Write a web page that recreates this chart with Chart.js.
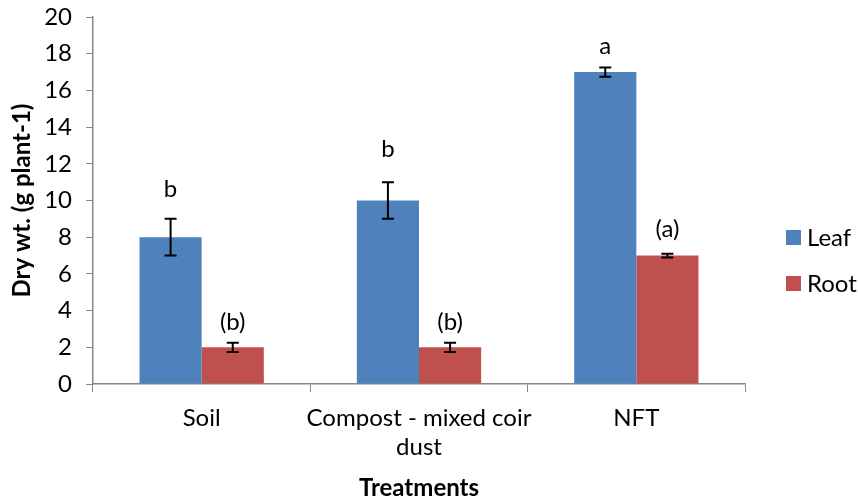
<!DOCTYPE html>
<html>
<head>
<meta charset="utf-8">
<script src="https://cdn.jsdelivr.net/npm/chart.js@4/dist/chart.umd.min.js"></script>
<style>
  html, body { margin: 0; padding: 0; background: #ffffff; }
  #wrap { width: 858px; height: 498px; }
</style>
</head>
<body>
<div id="wrap"><canvas id="c" width="858" height="498"></canvas></div>
<script>
// Dry weight per plant by growing treatment
const categories = ['Soil', ['Compost - mixed coir', 'dust'], 'NFT'];
const seriesNames = ['Leaf', 'Root'];
const leafValues = [8, 10, 17];
const rootValues = [2, 2, 7];
const leafErrors = [1, 1, 0.25];
const rootErrors = [0.25, 0.25, 0.1];
const leafLetters = ['b', 'b', 'a'];
const rootLetters = ['(b)', '(b)', '(a)'];
const yTicks = [0, 2, 4, 6, 8, 10, 12, 14, 16, 18, 20];

const FONT = 'Lato, "Open Sans", sans-serif';
const AXIS_GREY = '#868686';
Chart.defaults.font.family = FONT;
Chart.defaults.color = '#000000';

// Error bars and significance letters above each bar
const errorLetters = {
  id: 'errorLetters',
  afterDatasetsDraw(chart, args, opts) {
    const ctx = chart.ctx;
    const y = chart.scales.y;
    chart.data.datasets.forEach((ds, di) => {
      const meta = chart.getDatasetMeta(di);
      meta.data.forEach((bar, i) => {
        const v = ds.data[i];
        const e = ds.errors[i];
        const top = y.getPixelForValue(v + e);
        const bottom = y.getPixelForValue(v - e);
        const x = bar.x;
        ctx.save();
        ctx.strokeStyle = '#000000';
        ctx.lineWidth = 2;
        ctx.beginPath();
        ctx.moveTo(x, top); ctx.lineTo(x, bottom);
        ctx.moveTo(x - opts.cap, top); ctx.lineTo(x + opts.cap, top);
        ctx.moveTo(x - opts.cap, bottom); ctx.lineTo(x + opts.cap, bottom);
        ctx.stroke();
        ctx.fillStyle = '#000000';
        ctx.font = '24px ' + FONT;
        ctx.textAlign = 'center';
        ctx.textBaseline = 'alphabetic';
        ctx.fillText(ds.letters[i], x, top - opts.lift[di][i]);
        ctx.restore();
      });
    });
  }
};

// Legend at the right of the plot
const sideLegend = {
  id: 'sideLegend',
  afterDraw(chart, args, opts) {
    const ctx = chart.ctx;
    chart.data.datasets.forEach((ds, di) => {
      const bx = opts.x;
      const by = opts.y + di * opts.step;
      ctx.save();
      ctx.fillStyle = ds.backgroundColor;
      ctx.fillRect(bx, by, opts.box, opts.box);
      ctx.fillStyle = '#000000';
      ctx.font = '24px ' + FONT;
      ctx.textAlign = 'left';
      ctx.textBaseline = 'middle';
      ctx.fillText(ds.label, bx + opts.box + 6, by + opts.box / 2 + 1);
      ctx.restore();
    });
  }
};

new Chart(document.getElementById('c'), {
  type: 'bar',
  data: {
    labels: categories,
    datasets: [
      { label: seriesNames[0], data: leafValues, errors: leafErrors, letters: leafLetters,
        backgroundColor: '#4F81BD' },
      { label: seriesNames[1], data: rootValues, errors: rootErrors, letters: rootLetters,
        backgroundColor: '#C0504D' }
    ]
  },
  plugins: [errorLetters, sideLegend],
  options: {
    responsive: false,
    animation: false,
    devicePixelRatio: 1,
    categoryPercentage: 0.572,
    barPercentage: 1.0,
    layout: { padding: { top: 17, right: 113, bottom: 0, left: 0 } },
    plugins: {
      legend: { display: false },
      tooltip: { enabled: false },
      errorLetters: { cap: 6, lift: [[22, 25, 13], [13, 13, 17]] },
      sideLegend: { x: 786, y: 230, step: 46, box: 15 }
    },
    scales: {
      x: {
        grid: { display: true, drawOnChartArea: false, drawTicks: true, tickLength: 8,
                color: AXIS_GREY, offset: true },
        border: { display: true, color: AXIS_GREY, width: 1.5 },
        ticks: { font: { size: 24, lineHeight: 1.2 }, padding: 12, color: '#000000',
                 maxRotation: 0, autoSkip: false },
        title: { display: true, text: 'Treatments', font: { size: 24, weight: 'bold' },
                 padding: { top: 0, bottom: -5 }, color: '#000000' },
        afterFit(scale) { scale.height = 114; scale.paddingLeft = 0; scale.paddingRight = 0; }
      },
      y: {
        min: 0, max: 20,
        afterBuildTicks(scale) { scale.ticks = yTicks.map(v => ({ value: v })); },
        grid: { display: true, drawOnChartArea: false, drawTicks: true, tickLength: 7,
                color: AXIS_GREY },
        border: { display: true, color: AXIS_GREY, width: 1.5 },
        ticks: { font: { size: 24 }, padding: 14, color: '#000000' },
        title: { display: true, text: 'Dry wt. (g plant-1)', font: { size: 24, weight: 'bold' },
                 padding: { top: 8, bottom: 0 }, color: '#000000' },
        afterFit(scale) { scale.width = 93; scale.paddingTop = 0; scale.paddingBottom = 0; }
      }
    }
  }
});
</script>
</body>
</html>
